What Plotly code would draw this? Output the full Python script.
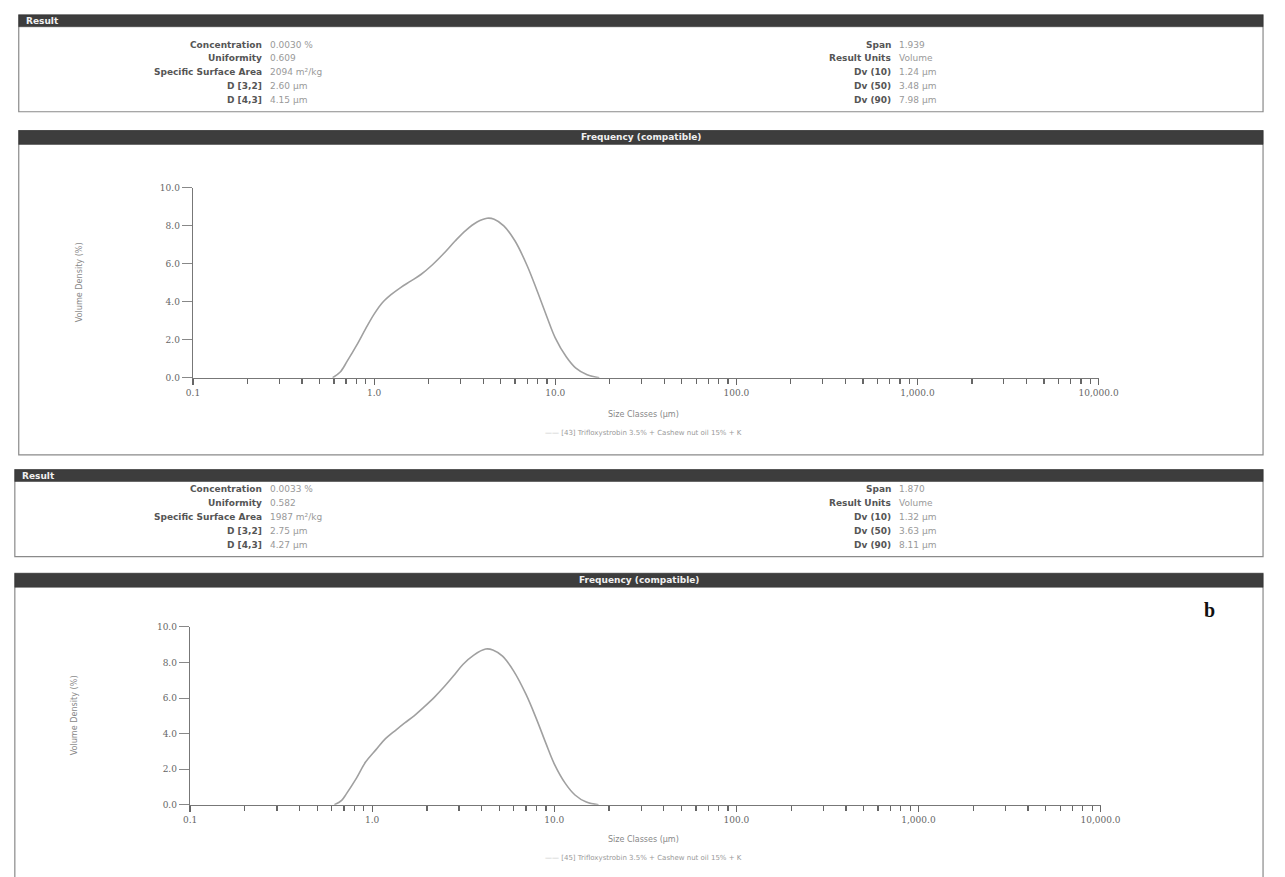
import plotly.graph_objects as go

W, H = 1285, 877

# ---------------- data ----------------
size_a = [0.59, 0.65, 0.71, 0.80, 0.90, 1.0, 1.11, 1.25, 1.4, 1.6, 1.82, 2.1, 2.4, 2.8, 3.2, 3.7, 4.2, 4.6, 5.2, 6.0, 7.0, 8.0, 9.0, 10.0, 11.5, 13.0, 15.0, 17.5]
dens_a = [0.0, 0.3, 0.87, 1.7, 2.6, 3.35, 3.95, 4.4, 4.75, 5.1, 5.45, 5.95, 6.5, 7.2, 7.75, 8.2, 8.4, 8.35, 8.0, 7.2, 5.9, 4.5, 3.2, 2.1, 1.1, 0.5, 0.15, 0.0]

size_b = [0.62, 0.68, 0.72, 0.82, 0.92, 1.05, 1.18, 1.35, 1.51, 1.7, 1.93, 2.2, 2.47, 2.8, 3.16, 3.6, 4.2, 4.6, 5.2, 6.0, 7.0, 8.0, 9.0, 10.0, 11.5, 13.0, 15.0, 17.5]
dens_b = [0.0, 0.25, 0.6, 1.5, 2.4, 3.1, 3.7, 4.2, 4.6, 5.0, 5.5, 6.05, 6.6, 7.25, 7.9, 8.4, 8.75, 8.7, 8.35, 7.5, 6.2, 4.8, 3.45, 2.3, 1.2, 0.55, 0.15, 0.0]

x_tickvals = [0.1, 1, 10, 100, 1000, 10000]
x_ticktext = ["0.1", "1.0", "10.0", "100.0", "1,000.0", "10,000.0"]
y_tickvals = [0, 2, 4, 6, 8, 10]
y_ticktext = ["0.0", "2.0", "4.0", "6.0", "8.0", "10.0"]

labels_left = ["Concentration", "Uniformity", "Specific Surface Area", "D [3,2]", "D [4,3]"]
labels_right = ["Span", "Result Units", "Dv (10)", "Dv (50)", "Dv (90)"]
vals_left_a = ["0.0030 %", "0.609", "2094 m²/kg", "2.60 μm", "4.15 μm"]
vals_right_a = ["1.939", "Volume", "1.24 μm", "3.48 μm", "7.98 μm"]
vals_left_b = ["0.0033 %", "0.582", "1987 m²/kg", "2.75 μm", "4.27 μm"]
vals_right_b = ["1.870", "Volume", "1.32 μm", "3.63 μm", "8.11 μm"]

legend_a = "[43] Trifloxystrobin 3.5% + Cashew nut oil 15% + K"
legend_b = "[45] Trifloxystrobin 3.5% + Cashew nut oil 15% + K"


def px(x):
    return x / W


def py(y):
    return 1 - y / H


fig = go.Figure()
fig.add_trace(go.Scatter(x=size_a, y=dens_a, mode="lines", line=dict(color="#a0a0a0", width=1.6, shape="spline", smoothing=1.0),
                         xaxis="x", yaxis="y", showlegend=False, hoverinfo="skip"))
fig.add_trace(go.Scatter(x=size_b, y=dens_b, mode="lines", line=dict(color="#a0a0a0", width=1.6, shape="spline", smoothing=1.0),
                         xaxis="x2", yaxis="y2", showlegend=False, hoverinfo="skip"))

tickfont = dict(family="DejaVu Serif, serif", size=9, color="#666")


def xaxis(domain, anchor):
    return dict(type="log", range=[-1, 4], domain=domain, anchor=anchor,
                tickvals=x_tickvals, ticktext=x_ticktext, ticks="outside", ticklen=6,
                tickcolor="#666", tickwidth=1.2, showline=True, linecolor="#777", linewidth=1.3,
                showgrid=False, zeroline=False, tickfont=tickfont,
                minor=dict(ticks="outside", ticklen=5, tickcolor="#666", dtick="D1", showgrid=False))


def yaxis(domain, anchor):
    return dict(range=[0, 10], domain=domain, anchor=anchor, tickvals=y_tickvals, ticktext=y_ticktext,
                ticks="outside", ticklen=10, tickcolor="#888", showline=True, linecolor="#777", linewidth=1.3,
                showgrid=False, zeroline=False, tickfont=tickfont)


shapes = []
ann = []


def panel_box(x0, y0, x1, y1):
    shapes.append(dict(type="rect", xref="paper", yref="paper", x0=px(x0), x1=px(x1), y0=py(y1), y1=py(y0),
                       line=dict(color="#8a8a8a", width=1.2), fillcolor="rgba(0,0,0,0)", layer="below"))


def header(x0, y0, x1, y1, text, center):
    shapes.append(dict(type="rect", xref="paper", yref="paper", x0=px(x0), x1=px(x1), y0=py(y1), y1=py(y0),
                       line=dict(color="#333", width=0.5), fillcolor="#3d3d3d", layer="below"))
    if center:
        ann.append(dict(text="<b>%s</b>" % text, x=px((x0 + x1) / 2), y=py((y0 + y1) / 2), xref="paper", yref="paper",
                        showarrow=False, xanchor="center", yanchor="middle",
                        font=dict(family="DejaVu Sans", size=9, color="#f0f0f0")))
    else:
        ann.append(dict(text="<b>%s</b>" % text, x=px(x0 + 5), y=py((y0 + y1) / 2), xref="paper", yref="paper",
                        showarrow=False, xanchor="left", yanchor="middle",
                        font=dict(family="DejaVu Sans", size=9, color="#f0f0f0")))


def result_rows(rows_y, xl, xr, vl, vr):
    for i, yy in enumerate(rows_y):
        ann.append(dict(text="<b>%s</b>" % labels_left[i], x=px(xl), y=py(yy), xref="paper", yref="paper",
                        showarrow=False, xanchor="right", yanchor="middle",
                        font=dict(family="DejaVu Sans", size=9, color="#555")))
        ann.append(dict(text=vl[i], x=px(xl + 4), y=py(yy), xref="paper", yref="paper",
                        showarrow=False, xanchor="left", yanchor="middle",
                        font=dict(family="DejaVu Sans", size=9, color="#999")))
        ann.append(dict(text="<b>%s</b>" % labels_right[i], x=px(xr), y=py(yy), xref="paper", yref="paper",
                        showarrow=False, xanchor="right", yanchor="middle",
                        font=dict(family="DejaVu Sans", size=9, color="#555")))
        ann.append(dict(text=vr[i], x=px(xr + 4), y=py(yy), xref="paper", yref="paper",
                        showarrow=False, xanchor="left", yanchor="middle",
                        font=dict(family="DejaVu Sans", size=9, color="#999")))


# Panel a
panel_box(12, 10, 1283, 108)
header(12, 10, 1283, 22, "Result", False)
result_rows([40, 54, 68, 82, 96], 263, 905, vals_left_a, vals_right_a)
panel_box(12, 127, 1283, 455)
header(12, 127, 1283, 141, "Frequency (compatible)", True)

# Panel b
panel_box(8, 470, 1283, 558)
header(8, 470, 1283, 482, "Result", False)
result_rows([490, 504, 518, 532, 546], 263, 905, vals_left_b, vals_right_b)
panel_box(8, 575, 1283, 900)
header(8, 575, 1283, 589, "Frequency (compatible)", True)

for (ytitle, xtitle, leg, yc, xt) in [(280, 414, legend_a, 433, 73), (719, 844, legend_b, 863, 68)]:
    ann.append(dict(text="Volume Density (%)", x=px(xt), y=py(ytitle), xref="paper", yref="paper",
                    showarrow=False, textangle=-90, xanchor="center", yanchor="middle",
                    font=dict(family="DejaVu Sans Condensed, DejaVu Sans", size=9, color="#888")))
    ann.append(dict(text="Size Classes (μm)", x=px(650), y=py(xtitle), xref="paper", yref="paper",
                    showarrow=False, xanchor="center", yanchor="middle",
                    font=dict(family="DejaVu Sans", size=8, color="#888")))
    ann.append(dict(text="<span style='color:#bbb'>——</span> " + leg, x=px(650), y=py(yc), xref="paper", yref="paper",
                    showarrow=False, xanchor="center", yanchor="middle",
                    font=dict(family="DejaVu Sans", size=7, color="#999")))

ann.append(dict(text="<b>b</b>", x=px(1228), y=py(612), xref="paper", yref="paper", showarrow=False,
                xanchor="center", yanchor="middle", font=dict(family="Liberation Serif, serif", size=20, color="#111")))

fig.update_layout(
    width=W, height=H, margin=dict(l=0, r=0, t=0, b=0),
    paper_bgcolor="white", plot_bgcolor="rgba(0,0,0,0)",
    xaxis=xaxis([px(190), px(1115)], "y"),
    yaxis=yaxis([py(377), py(185)], "x"),
    xaxis2=xaxis([px(187), px(1117)], "y2"),
    yaxis2=yaxis([py(809), py(629)], "x2"),
    shapes=shapes, annotations=ann, showlegend=False,
)

fig.write_html("out.html", config={"displayModeBar": False, "staticPlot": True},
               post_script="document.body.style.margin='0px';document.documentElement.style.overflow='hidden';")
